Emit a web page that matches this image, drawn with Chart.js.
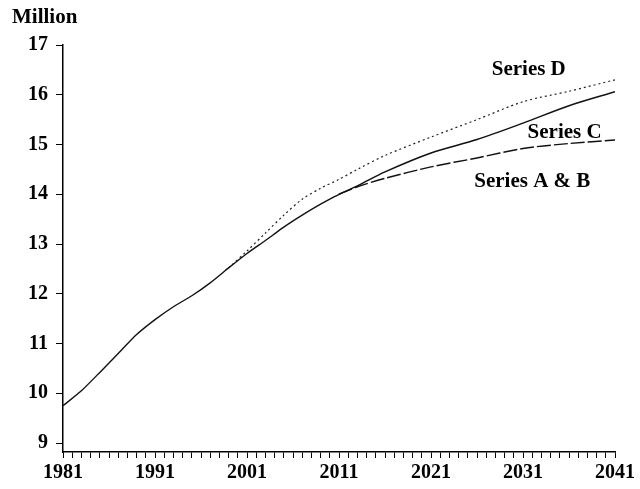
<!DOCTYPE html>
<html>
<head>
<meta charset="utf-8">
<script src="https://cdn.jsdelivr.net/npm/chart.js@4.4.0/dist/chart.umd.min.js"></script>
<style>
  body { margin: 0; background: #fff; }
  #wrap { width: 640px; height: 489px; position: relative; }
</style>
</head>
<body>
<div id="wrap"><canvas id="grafico"></canvas></div>
<script>
// valores (milhoes)
const anosHist = [1981, 1983, 1985, 1987, 1989, 1991, 1993, 1995, 1997, 1999, 2001, 2003, 2005, 2007, 2009, 2011]
const valHist = [9.75, 10.05, 10.42, 10.8, 11.18, 11.48, 11.74, 11.96, 12.22, 12.52, 12.81, 13.07, 13.34, 13.58, 13.8, 14.0]

const anosAB = [2011, 2013, 2016, 2021, 2026, 2031, 2036, 2041]
const valAB = [14.0, 14.15, 14.32, 14.55, 14.73, 14.92, 15.02, 15.09]

const anosC = [2011, 2013, 2016, 2021, 2026, 2031, 2036, 2041]
const valC = [14.0, 14.17, 14.45, 14.83, 15.1, 15.43, 15.78, 16.06]

const anosD = [1999, 2001, 2003, 2005, 2007, 2009, 2011, 2013, 2016, 2021, 2026, 2031, 2036, 2041]
const valD = [12.52, 12.86, 13.22, 13.58, 13.9, 14.12, 14.3, 14.5, 14.78, 15.15, 15.5, 15.86, 16.07, 16.3]

const yTicks = [9, 10, 11, 12, 13, 14, 15, 16, 17]
const xLabels = [1981, 1991, 2001, 2011, 2021, 2031, 2041]

const rotulos = ['Series D', 'Series C', 'Series A & B']
const rotuloAno = [2027.6, 2031.5, 2025.7]
const rotuloVal = [16.5, 15.23, 14.25]

function pontos(anos, vals) {
  return anos.map((a, i) => ({ x: a, y: vals[i] }))
}

const fonte = "'Liberation Serif', 'DejaVu Serif', serif"

const rotulosPlugin = {
  id: 'rotulos',
  afterDatasetsDraw(chart) {
    const ctx = chart.ctx
    const x = chart.scales.x
    const y = chart.scales.y
    ctx.save()
    ctx.fillStyle = '#000'
    ctx.font = 'bold 21px ' + fonte
    ctx.textBaseline = 'middle'
    ctx.textAlign = 'left'
    for (let i = 0; i < rotulos.length; i++) {
      ctx.fillText(rotulos[i], x.getPixelForValue(rotuloAno[i]), y.getPixelForValue(rotuloVal[i]))
    }
    ctx.fillText('Million', 12, 18)
    ctx.restore()
  }
}

const ctx = document.getElementById('grafico')

new Chart(ctx, {
  type: 'line',
  data: {
    datasets: [
      {
        label: 'Historico',
        data: pontos(anosHist, valHist),
        borderColor: '#111',
        borderWidth: 1.4,
        pointRadius: 0,
        tension: 0.2
      },
      {
        label: 'Series A & B',
        data: pontos(anosAB, valAB),
        borderColor: '#111',
        borderWidth: 1.4,
        borderDash: [14, 3],
        pointRadius: 0,
        tension: 0.3
      },
      {
        label: 'Series C',
        data: pontos(anosC, valC),
        borderColor: '#111',
        borderWidth: 1.5,
        pointRadius: 0,
        tension: 0.3
      },
      {
        label: 'Series D',
        data: pontos(anosD, valD),
        borderColor: '#222',
        borderWidth: 1.2,
        borderDash: [2, 3],
        pointRadius: 0,
        tension: 0.3
      }
    ]
  },
  options: {
    responsive: true,
    maintainAspectRatio: false,
    animation: false,
    layout: { padding: { left: 0, top: 45, right: 25, bottom: 0 } },
    plugins: {
      legend: { display: false },
      tooltip: { enabled: false }
    },
    scales: {
      x: {
        type: 'linear',
        min: 1981,
        max: 2041,
        afterBuildTicks(scale) {
          const t = []
          for (let a = 1981; a <= 2041; a++) t.push({ value: a })
          scale.ticks = t
        },
        afterFit(scale) { scale.height = 37 },
        grid: { drawOnChartArea: false, drawTicks: true, tickLength: 6, color: '#000', lineWidth: 1 },
        border: { display: true, color: '#000', width: 1.5 },
        ticks: {
          autoSkip: false,
          maxRotation: 0,
          padding: 3,
          color: '#000',
          font: { family: fonte, size: 20, weight: 'bold' },
          callback: v => xLabels.includes(v) ? String(v) : ''
        }
      },
      y: {
        type: 'linear',
        min: 8.82,
        max: 17,
        afterBuildTicks(scale) {
          scale.ticks = yTicks.map(v => ({ value: v }))
        },
        afterFit(scale) { scale.width = 63 },
        grid: { drawOnChartArea: false, drawTicks: true, tickLength: 7, color: '#000' },
        border: { display: true, color: '#000', width: 1.5 },
        ticks: {
          padding: 8,
          color: '#000',
          font: { family: fonte, size: 20, weight: 'bold' }
        }
      }
    }
  },
  plugins: [rotulosPlugin]
})
</script>
</body>
</html>
